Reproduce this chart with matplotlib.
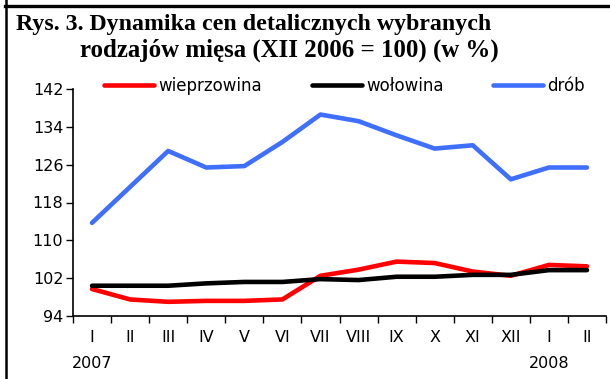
import matplotlib.pyplot as plt
from matplotlib.lines import Line2D

# Dane: dynamika cen detalicznych mięsa (XII 2006 = 100)
miesiace = ['I', 'II', 'III', 'IV', 'V', 'VI', 'VII', 'VIII', 'IX', 'X', 'XI', 'XII', 'I', 'II']
lata = {0: '2007', 12: '2008'}
wieprzowina = [99.7, 97.5, 97.0, 97.2, 97.2, 97.5, 102.5, 103.8, 105.5, 105.2, 103.4, 102.5, 104.8, 104.5]
wolowina = [100.4, 100.4, 100.4, 100.9, 101.2, 101.2, 101.8, 101.6, 102.3, 102.3, 102.7, 102.7, 103.7, 103.7]
drob = [113.7, 121.3, 128.9, 125.4, 125.7, 130.8, 136.6, 135.2, 132.2, 129.4, 130.1, 122.9, 125.4, 125.4]
y_ticks = [94, 102, 110, 118, 126, 134, 142]

plt.rcParams['font.family'] = 'DejaVu Sans'

fig = plt.figure(figsize=(6.1, 3.79), dpi=100)
ax = fig.add_axes([73 / 610, 1 - 316 / 379, (606 - 73) / 610, (316 - 89) / 379])

x = list(range(len(miesiace)))
ax.plot(x, wieprzowina, color='#ff0000', lw=3.3, solid_capstyle='round', label='wieprzowina')
ax.plot(x, wolowina, color='black', lw=3.3, solid_capstyle='round', label='wołowina')
ax.plot(x, drob, color='#3f6fff', lw=3.3, solid_capstyle='round', label='drób')

# Osie
ax.set_xlim(-0.5, len(miesiace) - 0.5)
ax.set_ylim(94, 142)
ax.set_yticks(y_ticks)
ax.tick_params(axis='y', length=5, width=1, pad=2, labelsize=11.5)

etykiety = [m + ('\n' + lata[i] if i in lata else '') for i, m in enumerate(miesiace)]
ax.set_xticks(x)
ax.set_xticklabels(etykiety, linespacing=1.95)
ax.set_xticks([i + 0.5 for i in range(-1, len(miesiace))], minor=True)
ax.tick_params(axis='x', which='major', length=0, pad=10, labelsize=11.5)
ax.tick_params(axis='x', which='minor', length=5, width=1)

for s in ['top', 'right']:
    ax.spines[s].set_visible(False)
for s in ['left', 'bottom']:
    ax.spines[s].set_linewidth(1.2)

ax.legend(loc='center left', bbox_to_anchor=(104 / 610, 1 - 86 / 379),
          bbox_transform=fig.transFigure, ncol=3, frameon=False,
          fontsize=12, handlelength=3.0, handletextpad=0.25,
          columnspacing=3.0, borderpad=0, borderaxespad=0)

# Tytuł
fig.text(16 / 610, 1 - 30 / 379, 'Rys. 3. Dynamika cen detalicznych wybranych',
         family='Liberation Serif', weight='bold', fontsize=17.2, va='baseline')
fig.text(80 / 610, 1 - 57 / 379, 'rodzajów mięsa (XII 2006 = 100) (w %)',
         family='Liberation Serif', weight='bold', fontsize=17.9, va='baseline')

# Ramka
fig.add_artist(Line2D([5.5 / 610, 5.5 / 610], [0, 1], color='black', lw=1.8))
fig.add_artist(Line2D([5 / 610, 1], [1 - 6 / 379, 1 - 6 / 379], color='black', lw=2.4))

fig.savefig('out.png', dpi=100)
